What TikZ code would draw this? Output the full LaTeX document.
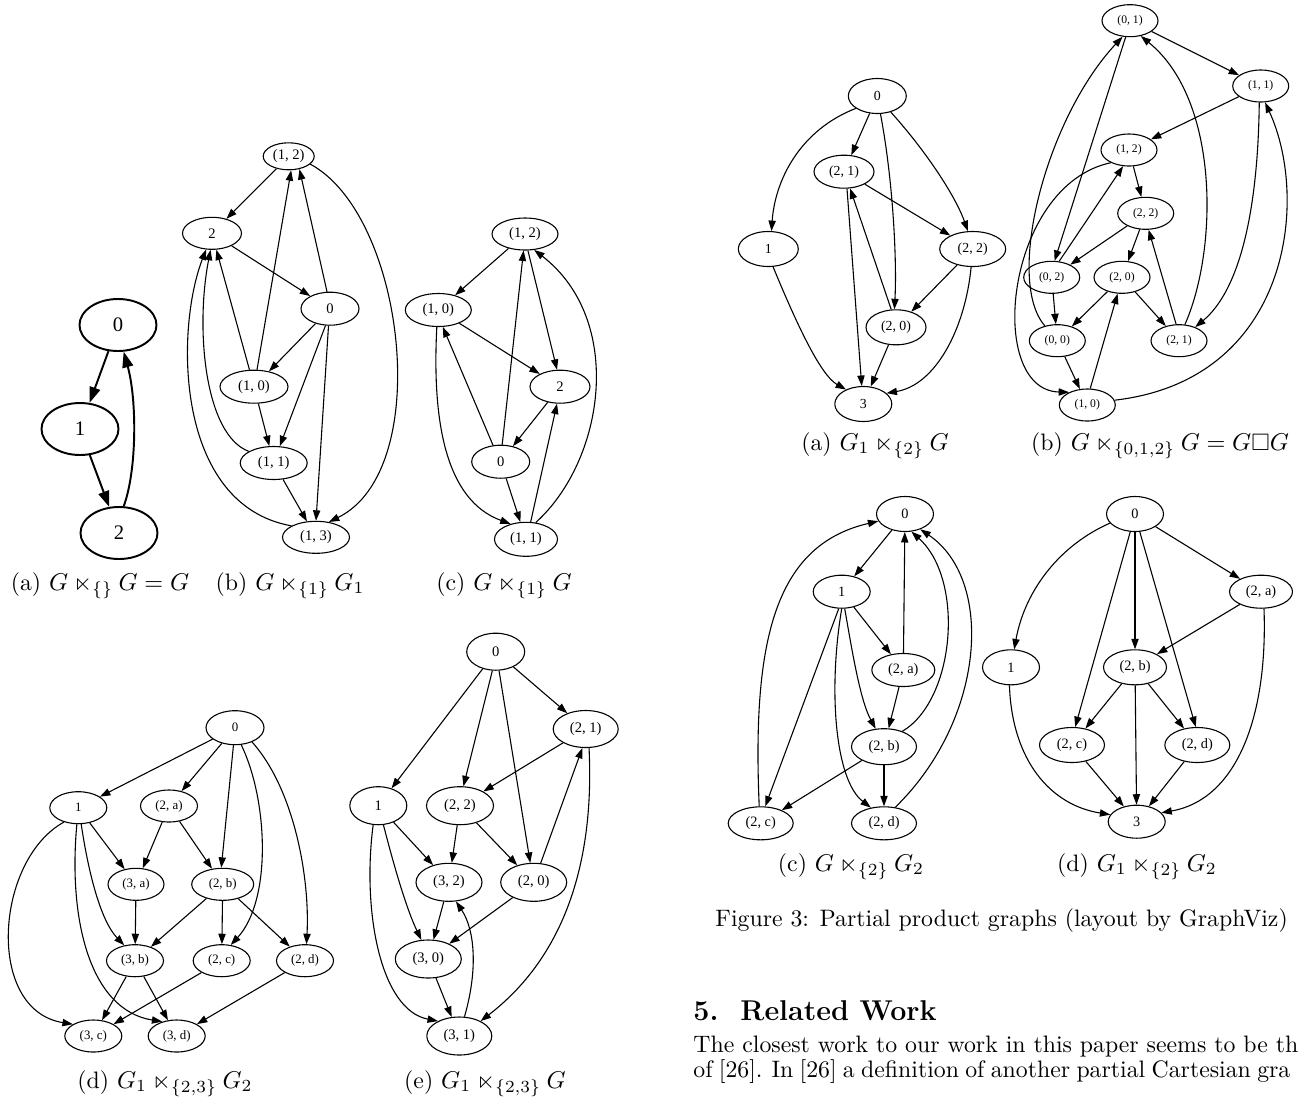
\documentclass[tikz,border=0pt]{standalone}
\usepackage{amssymb}
\usepackage{fontspec}
\newfontfamily\gvfont{Liberation Serif}
\usetikzlibrary{shapes.geometric,arrows.meta}
\tikzset{
  nd/.style 2 args={ellipse, draw, line width=0.45pt, inner sep=0pt, minimum width=#1*0.412pt, minimum height=#2*0.412pt},
  ndA/.style 2 args={ellipse, draw, line width=0.8pt, inner sep=0pt, minimum width=#1*0.412pt, minimum height=#2*0.412pt},
  ed/.style={line width=0.45pt, -{Triangle[length=4.3pt,width=3pt]}},
  edA/.style={line width=0.8pt, -{Triangle[length=6.5pt,width=4.5pt]}},
  subcap/.style={font=\fontsize{9.8}{12}\selectfont, anchor=base},
  txt/.style={font=\fontsize{9.8}{12}\selectfont, anchor=base west, inner sep=0pt},
}
\begin{document}
\begin{tikzpicture}[x=0.412pt, y=-0.412pt]
\useasboundingbox (0,0) rectangle (1299,1099);

% ---------- left (a)
\begin{scope}[every node/.append style={font=\gvfont\fontsize{8.5}{10}\selectfont}]
\node[ndA={77}{52}] (a0) at (118,325) {0};
\node[ndA={77}{52}] (a1) at (80,429) {1};
\node[ndA={77}{52}] (a2) at (119,533) {2};
\end{scope}
\draw[edA] (a0) -- (a1);
\draw[edA] (a1) -- (a2);
\draw[edA] (a2.80) .. controls (137,470) and (137,400) .. (a0.282);

% ---------- left (b)
\begin{scope}[every node/.append style={font=\gvfont\fontsize{6}{7}\selectfont}]
\node[nd={51}{27}] (b12) at (288.7,156.3) {(1, 2)};
\node[nd={59}{32}] (b2) at (212,233.3) {2};
\node[nd={58}{33}] (b0) at (330,308.7) {0};
\node[nd={68}{33}] (b10) at (254,386.7) {(1, 0)};
\node[nd={67}{33}] (b11) at (273.7,463) {(1, 1)};
\node[nd={67}{32}] (b13) at (316,537.3) {(1, 3)};
\end{scope}
\draw[ed] (b12) -- (b2);
\draw[ed] (b2) -- (b0);
\draw[ed] (b0.100) -- (b12.310);
\draw[ed] (b10.80) -- (b12.280);
\draw[ed] (b10.105) -- (b2.285);
\draw[ed] (b0) -- (b10);
\draw[ed] (b0.255) -- (b11.70);
\draw[ed] (b0.265) -- (b13.90);
\draw[ed] (b10) -- (b11);
\draw[ed] (b11) -- (b13);
\draw[ed] (b11.155) .. controls (205,435) and (195,330) .. (b2.265);
\draw[ed] (b13.155) .. controls (175,505) and (175,330) .. (b2.250);
\draw[ed] (b12.340) .. controls (405,215) and (435,470) .. (b13.50);

% ---------- left (c)
\begin{scope}[every node/.append style={font=\gvfont\fontsize{6}{7}\selectfont}]
\node[nd={66}{32}] (c12) at (525,234) {(1, 2)};
\node[nd={66}{33}] (c10) at (438.3,310) {(1, 0)};
\node[nd={60}{33}] (c2) at (560,386.7) {2};
\node[nd={58}{33}] (c0) at (500.7,461.7) {0};
\node[nd={63}{34}] (c11) at (526,539.3) {(1, 1)};
\end{scope}
\draw[ed] (c12) -- (c10);
\draw[ed] (c10) -- (c2);
\draw[ed] (c12.280) -- (c2.100);
\draw[ed] (c0.85) -- (c12.265);
\draw[ed] (c0.115) -- (c10.285);
\draw[ed] (c2) -- (c0);
\draw[ed] (c0) -- (c11);
\draw[ed] (c11.75) -- (c2.260);
\draw[ed] (c11.60) .. controls (605,460) and (625,320) .. (c12.300);
\draw[ed] (c10.265) .. controls (432,420) and (445,500) .. (c11.135);

% ---------- left (d)
\begin{scope}[every node/.append style={font=\gvfont\fontsize{5.3}{6}\selectfont}]
\node[nd={58}{34}] (d0) at (235,727.7) {0};
\node[nd={57}{32}] (d1) at (78.3,807.7) {1};
\node[nd={57}{32}] (d2a) at (169,806) {(2, a)};
\node[nd={56}{32}] (d3a) at (136,884.3) {(3, a)};
\node[nd={62}{32}] (d2b) at (222.7,884.3) {(2, b)};
\node[nd={57}{32}] (d3b) at (135,960.7) {(3, b)};
\node[nd={57}{32}] (d2c) at (221.7,960.7) {(2, c)};
\node[nd={57}{32}] (d2d) at (305,960.7) {(2, d)};
\node[nd={57}{32}] (d3c) at (93.3,1036) {(3, c)};
\node[nd={57}{32}] (d3d) at (176.7,1036) {(3, d)};
\end{scope}
\draw[ed] (d0) -- (d1);
\draw[ed] (d0) -- (d2a);
\draw[ed] (d0.265) -- (d2b.95);
\draw[ed] (d0.290) .. controls (268,800) and (272,900) .. (d2c.60);
\draw[ed] (d0.320) .. controls (295,790) and (310,880) .. (d2d.85);
\draw[ed] (d1) -- (d3a);
\draw[ed] (d1.280) .. controls (88,870) and (100,920) .. (d3b.125);
\draw[ed] (d1.265) .. controls (68,920) and (90,1010) .. (d3d.135);
\draw[ed] (d1.225) .. controls (-5,860) and (-15,1010) .. (d3c.150);
\draw[ed] (d2a) -- (d3a);
\draw[ed] (d2a) -- (d2b);
\draw[ed] (d3a) -- (d3b);
\draw[ed] (d2b) -- (d3b);
\draw[ed] (d2b) -- (d2c);
\draw[ed] (d2b) -- (d2d);
\draw[ed] (d3b) -- (d3c);
\draw[ed] (d3b) -- (d3d);
\draw[ed] (d2c) -- (d3c);
\draw[ed] (d2d) -- (d3d);

% ---------- left (e)
\begin{scope}[every node/.append style={font=\gvfont\fontsize{6}{7}\selectfont}]
\node[nd={58}{37}] (e0) at (495.7,651.7) {0};
\node[nd={65}{37}] (e21) at (585.7,729) {(2, 1)};
\node[nd={57}{38}] (e1) at (378.3,805.7) {1};
\node[nd={67}{38}] (e22) at (460,805.7) {(2, 2)};
\node[nd={66}{38}] (e32) at (449,882.3) {(3, 2)};
\node[nd={66}{38}] (e20) at (533.7,882.3) {(2, 0)};
\node[nd={66}{38}] (e30) at (428.3,959) {(3, 0)};
\node[nd={65}{38}] (e31) at (459.3,1036) {(3, 1)};
\end{scope}
\draw[ed] (e0) -- (e1);
\draw[ed] (e0.260) -- (e22.80);
\draw[ed] (e0.280) -- (e20.100);
\draw[ed] (e0) -- (e21);
\draw[ed] (e21) -- (e22);
\draw[ed] (e20.70) -- (e21.260);
\draw[ed] (e21.280) .. controls (595,870) and (560,960) .. (e31.35);
\draw[ed] (e1) -- (e32);
\draw[ed] (e1.285) .. controls (395,870) and (407,910) .. (e30.110);
\draw[ed] (e1.255) .. controls (362,910) and (380,1010) .. (e31.145);
\draw[ed] (e22) -- (e32);
\draw[ed] (e22) -- (e20);
\draw[ed] (e32) -- (e30);
\draw[ed] (e20) -- (e30);
\draw[ed] (e30) -- (e31);
\draw[ed] (e31.75) .. controls (478,970) and (475,930) .. (e32.290);

% ---------- right (a)
\begin{scope}[every node/.append style={font=\gvfont\fontsize{5.7}{7}\selectfont}]
\node[nd={58}{35}] (ra0) at (877.3,96) {0};
\node[nd={60}{33}] (ra21) at (844,171.7) {(2, 1)};
\node[nd={60}{35}] (ra1) at (768.3,249) {1};
\node[nd={66}{35}] (ra22) at (972.7,249) {(2, 2)};
\node[nd={60}{35}] (ra20) at (896,327.3) {(2, 0)};
\node[nd={57}{35}] (ra3) at (863.3,404) {3};
\end{scope}
\draw[ed] (ra0.210) .. controls (800,130) and (775,180) .. (ra1.80);
\draw[ed] (ra0) -- (ra21);
\draw[ed] (ra0.280) .. controls (893,180) and (897,260) .. (ra20.95);
\draw[ed] (ra0.310) .. controls (925,150) and (955,195) .. (ra22.105);
\draw[ed] (ra21) -- (ra22);
\draw[ed] (ra21.280) -- (ra3.95);
\draw[ed] (ra20.105) -- (ra21.290);
\draw[ed] (ra22) -- (ra20);
\draw[ed] (ra22.265) .. controls (965,330) and (935,385) .. (ra3.25);
\draw[ed] (ra20) -- (ra3);
\draw[ed] (ra1.285) .. controls (795,320) and (820,375) .. (ra3.140);

% ---------- right (b)
\begin{scope}[every node/.append style={font=\gvfont\fontsize{4.8}{6}\selectfont}]
\node[nd={56}{32}] (rb01) at (1130,20.7) {(0, 1)};
\node[nd={56}{32}] (rb11) at (1260.7,86) {(1, 1)};
\node[nd={56}{32}] (rb12) at (1129,150) {(1, 2)};
\node[nd={56}{32}] (rb22) at (1145.7,213.3) {(2, 2)};
\node[nd={56}{32}] (rb02) at (1051.7,277.3) {(0, 2)};
\node[nd={56}{32}] (rb20) at (1122,277.3) {(2, 0)};
\node[nd={56}{32}] (rb00) at (1057.3,340.7) {(0, 0)};
\node[nd={56}{32}] (rb21) at (1179,340.7) {(2, 1)};
\node[nd={56}{32}] (rb10) at (1087.3,405) {(1, 0)};
\end{scope}
\draw[ed] (rb01) -- (rb11);
\draw[ed] (rb11) -- (rb12);
\draw[ed] (rb12) -- (rb22);
\draw[ed] (rb22) -- (rb02);
\draw[ed] (rb22) -- (rb20);
\draw[ed] (rb01.255) -- (rb02.80);
\draw[ed] (rb02.65) -- (rb12.250);
\draw[ed] (rb02) -- (rb00);
\draw[ed] (rb20) -- (rb00);
\draw[ed] (rb20) -- (rb21);
\draw[ed] (rb00) -- (rb10);
\draw[ed] (rb10.80) -- (rb20.255);
\draw[ed] (rb21.100) -- (rb22.280);
\draw[ed] (rb21.70) .. controls (1218,250) and (1220,100) .. (rb01.305);
\draw[ed] (rb11.265) .. controls (1258,210) and (1240,290) .. (rb21.40);
\draw[ed] (rb10.10) .. controls (1290,380) and (1310,200) .. (rb11.285);
\draw[ed] (rb00.130) .. controls (1005,280) and (1045,120) .. (rb01.245);
\draw[ed] (rb12.215) .. controls (1005,185) and (985,390) .. (rb10.145);

% ---------- right (c)
\begin{scope}[every node/.append style={font=\gvfont\fontsize{5.9}{7}\selectfont}]
\node[nd={57}{35}] (rc0) at (905,514) {0};
\node[nd={57}{33}] (rc1) at (841.7,591.7) {1};
\node[nd={63}{33}] (rc2a) at (903.3,670) {(2, a)};
\node[nd={65}{36}] (rc2b) at (884,746.7) {(2, b)};
\node[nd={65}{33}] (rc2c) at (760.7,823.3) {(2, c)};
\node[nd={65}{33}] (rc2d) at (884,823.3) {(2, d)};
\end{scope}
\draw[ed] (rc0) -- (rc1);
\draw[ed] (rc1) -- (rc2a);
\draw[ed] (rc2a) -- (rc0);
\draw[ed] (rc1.280) .. controls (852,650) and (860,700) .. (rc2b.115);
\draw[ed] (rc2a) -- (rc2b);
\draw[ed] (rc1.260) -- (rc2c.75);
\draw[ed] (rc1.270) .. controls (828,690) and (835,780) .. (rc2d.130);
\draw[ed] (rc2b) -- (rc2c);
\draw[ed] (rc2b) -- (rc2d);
\draw[ed] (rc2c.95) .. controls (752,640) and (775,545) .. (rc0.195);
\draw[ed] (rc2b.40) .. controls (955,700) and (965,580) .. (rc0.290);
\draw[ed] (rc2d.55) .. controls (985,720) and (995,580) .. (rc0.315);

% ---------- right (d)
\begin{scope}[every node/.append style={font=\gvfont\fontsize{5.9}{7}\selectfont}]
\node[nd={57}{35}] (rd0) at (1135,514) {0};
\node[nd={63}{33}] (rd2a) at (1261,591.7) {(2, a)};
\node[nd={57}{35}] (rd1) at (1011,667.3) {1};
\node[nd={63}{35}] (rd2b) at (1135,667.3) {(2, b)};
\node[nd={65}{35}] (rd2c) at (1072,745) {(2, c)};
\node[nd={65}{35}] (rd2d) at (1197.3,745) {(2, d)};
\node[nd={57}{33}] (rd3) at (1136.7,821.7) {3};
\end{scope}
\draw[ed] (rd0.200) .. controls (1060,545) and (1025,590) .. (rd1.80);
\draw[ed] (rd0.255) -- (rd2c.80);
\draw[ed] (rd0) -- (rd2b);
\draw[ed] (rd0.285) -- (rd2d.95);
\draw[ed] (rd0) -- (rd2a);
\draw[ed] (rd2a) -- (rd2b);
\draw[ed] (rd2a.280) .. controls (1268,720) and (1235,800) .. (rd3.20);
\draw[ed] (rd2b) -- (rd2c);
\draw[ed] (rd2b) -- (rd2d);
\draw[ed] (rd2b) -- (rd3);
\draw[ed] (rd2c) -- (rd3);
\draw[ed] (rd2d) -- (rd3);
\draw[ed] (rd1.265) .. controls (1012,760) and (1050,805) .. (rd3.165);

% ---------- captions
\node[subcap] (capa) at (100,590) {(a) $G\ltimes_{\{\}}G=G$};
\node[subcap] (capb) at (290,590) {(b) $G\ltimes_{\{1\}}G_1$};
\node[subcap] (capc) at (504,590) {(c) $G\ltimes_{\{1\}}G$};
\node[subcap] (capd) at (165,1088) {(d) $G_1\ltimes_{\{2,3\}}G_2$};
\node[subcap] (cape) at (485,1088) {(e) $G_1\ltimes_{\{2,3\}}G$};
\node[subcap] (capra) at (875,450) {(a) $G_1\ltimes_{\{2\}}G$};
\node[subcap] (caprb) at (1160,450) {(b) $G\ltimes_{\{0,1,2\}}G=G\Box G$};
\node[subcap] (caprc) at (851,871) {(c) $G\ltimes_{\{2\}}G_2$};
\node[subcap] (caprd) at (1137,871) {(d) $G_1\ltimes_{\{2\}}G_2$};

\node[txt] (figcap) at (715,926) {Figure 3: Partial product graphs (layout by GraphViz)};
\node[txt, font=\fontsize{11.8}{14}\selectfont\bfseries] (secnum) at (693,1020) {5.};
\node[txt, font=\fontsize{11.8}{14}\selectfont\bfseries] (sectitle) at (740,1020) {Related Work};
\node[txt] (body1) at (693,1052) {The closest work to our work in this paper seems to be th};
\node[txt] (body2) at (693,1077) {\spaceskip=2.6pt of [26]. In [26] a definition of another partial Cartesian gra};
\end{tikzpicture}
\end{document}
